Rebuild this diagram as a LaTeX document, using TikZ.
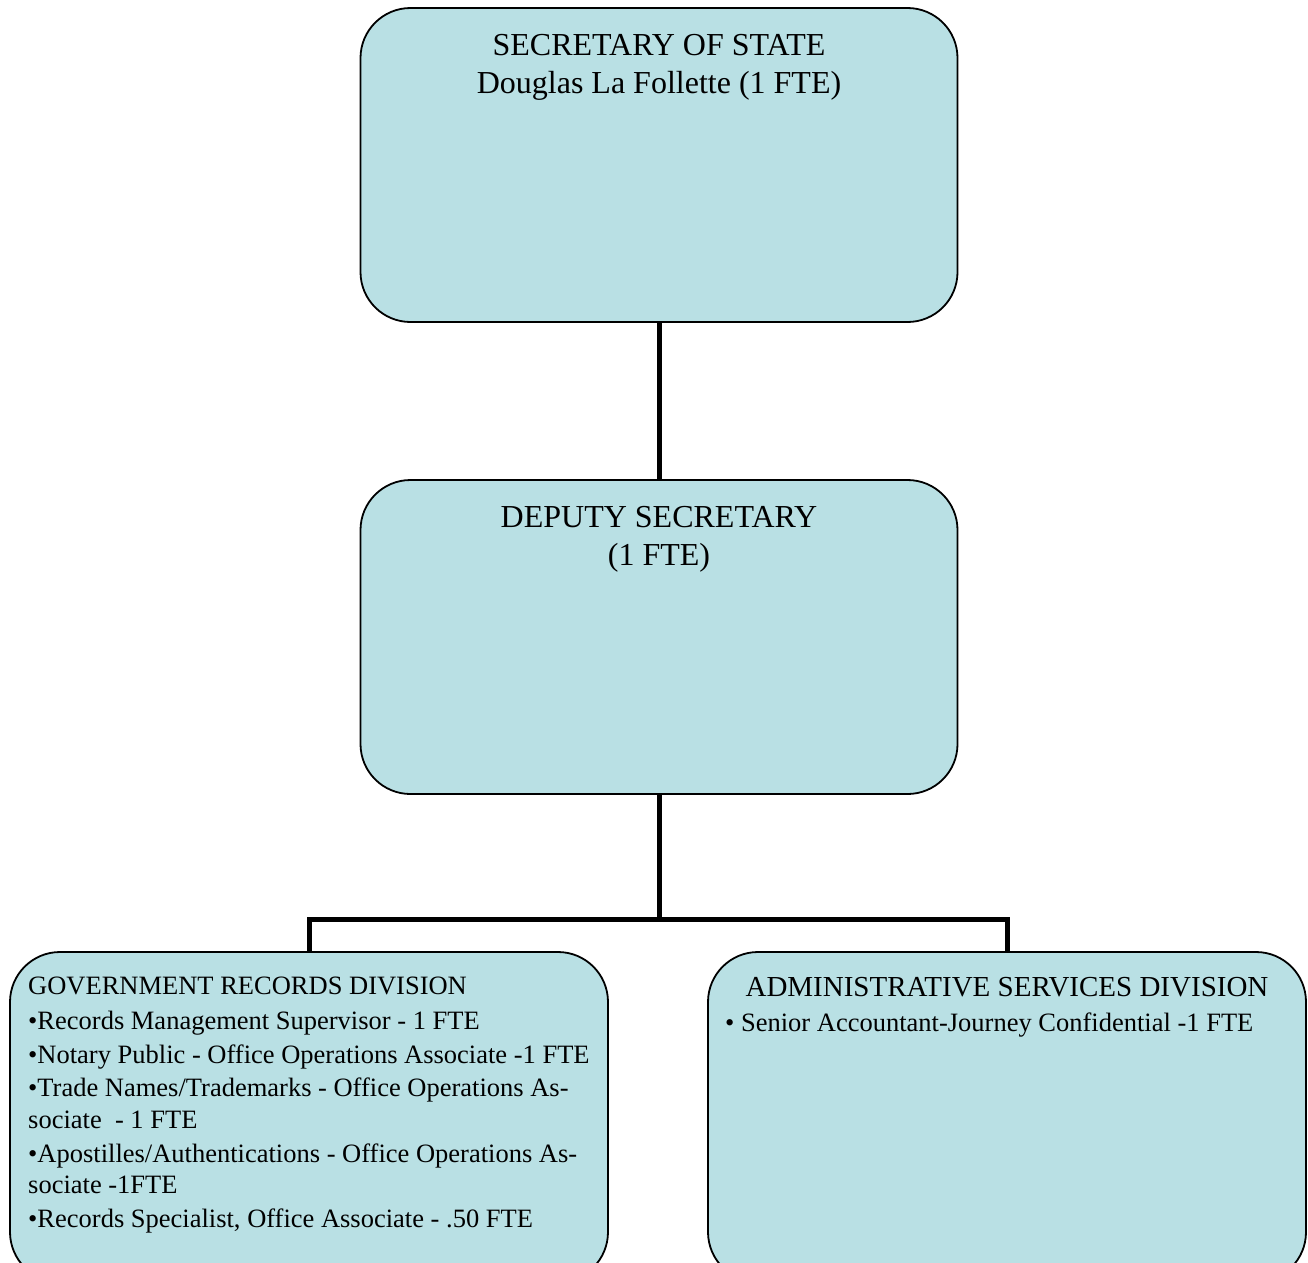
\documentclass[tikz,border=0pt]{standalone}
\usepackage{fontspec}
\setmainfont{Liberation Serif}
\definecolor{boxfill}{RGB}{185,224,228}
\begin{document}
\begin{tikzpicture}[x=1pt,y=-1pt,
  orgbox/.style={draw=black,line width=1.8pt,fill=boxfill,rectangle,rounded corners=50pt,
     minimum width=597pt,inner sep=0pt},
  conn/.style={draw=black,line width=5pt,line join=miter},
  big/.style={font=\fontsize{32}{38}\selectfont,inner sep=0pt,anchor=base},
  small/.style={font=\fontsize{26.5}{31}\selectfont,inner sep=0pt,anchor=base west},
  mid/.style={font=\fontsize{29}{34}\selectfont,inner sep=0pt,anchor=base}]
\clip (0,0) rectangle (1308,1262);
\fill[white] (0,0) rectangle (1308,1262);
% boxes
\node[orgbox,minimum height=314pt] (sec) at (659,165) {};
\node[orgbox,minimum height=314pt] (dep) at (659,637) {};
\node[orgbox,minimum height=330pt,minimum width=598pt] (grd) at (309,1117) {};
\node[orgbox,minimum height=330pt,minimum width=598pt] (asd) at (1007,1117) {};
% connectors
\coordinate (bar) at (659,919);
\draw[conn] (sec.south) -- (dep.north);
\draw[conn] (dep.south) -- (bar);
\draw[conn] (grd.north) |- (bar) -| (asd.north);
% texts
\node[big] (s1) at (659,55) {SECRETARY OF STATE};
\node[big] (s2) at (659,93) {Douglas La Follette (1 FTE)};
\node[big] (d1) at (659,527) {DEPUTY SECRETARY};
\node[big] (d2) at (659,565) {(1 FTE)};
\node[small] (g0) at (28,994) {GOVERNMENT RECORDS DIVISION};
\node[small] (g1) at (28,1029) {•Records Management Supervisor - 1 FTE};
\node[small] (g2) at (28,1063) {•Notary Public - Office Operations Associate -1 FTE};
\node[small] (g3) at (28,1096) {•Trade Names/Trademarks - Office Operations As-};
\node[small] (g4) at (28,1128) {sociate \ - 1 FTE};
\node[small] (g5) at (28,1162) {•Apostilles/Authentications - Office Operations As-};
\node[small] (g6) at (28,1193) {sociate -1FTE};
\node[small] (g7) at (28,1227) {•Records Specialist, Office Associate - .50 FTE};
\node[mid] (a0) at (1007,996) {ADMINISTRATIVE SERVICES DIVISION};
\node[small] (a1) at (725,1031) {• Senior Accountant-Journey Confidential -1 FTE};
\end{tikzpicture}
\end{document}
